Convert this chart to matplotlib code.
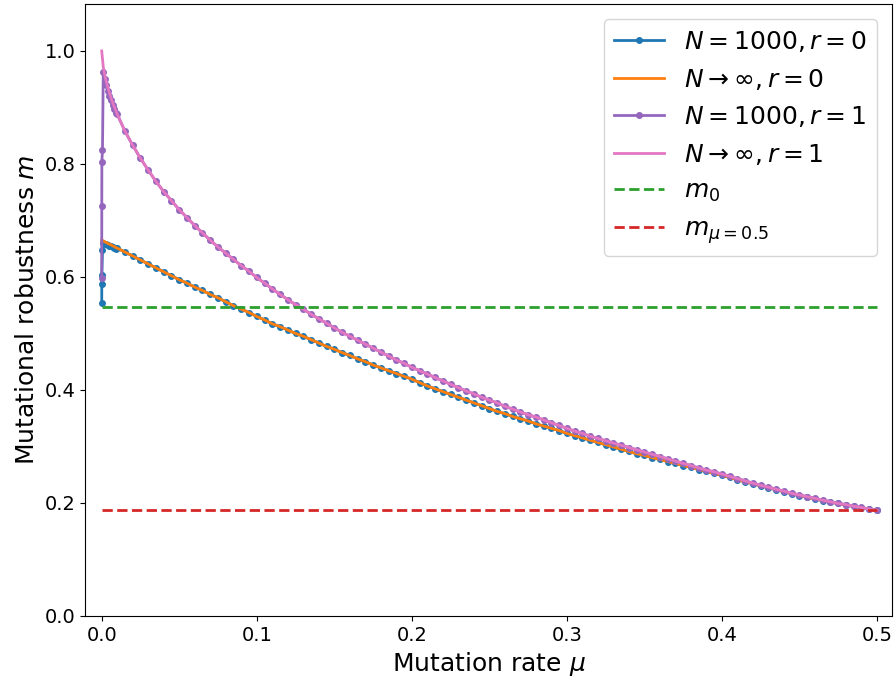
import matplotlib
matplotlib.use("Agg")
import matplotlib.pyplot as plt

# mutation-rate grids
mu_tiny = [1e-5, 5e-5, 1e-4, 5e-4]
mu_fine = [0.001, 0.002, 0.003, 0.004, 0.005, 0.006, 0.007, 0.008, 0.009]
mu_tail = [0.010, 0.015, 0.020, 0.025, 0.030, 0.035, 0.040, 0.045, 0.050, 0.055,
           0.060, 0.065, 0.070, 0.075, 0.080, 0.085, 0.090, 0.095, 0.100, 0.105,
           0.110, 0.115, 0.120, 0.125, 0.130, 0.135, 0.140, 0.145, 0.150, 0.155,
           0.160, 0.165, 0.170, 0.175, 0.180, 0.185, 0.190, 0.195, 0.200, 0.205,
           0.210, 0.215, 0.220, 0.225, 0.230, 0.235, 0.240, 0.245, 0.250, 0.255,
           0.260, 0.265, 0.270, 0.275, 0.280, 0.285, 0.290, 0.295, 0.300, 0.305,
           0.310, 0.315, 0.320, 0.325, 0.330, 0.335, 0.340, 0.345, 0.350, 0.355,
           0.360, 0.365, 0.370, 0.375, 0.380, 0.385, 0.390, 0.395, 0.400, 0.405,
           0.410, 0.415, 0.420, 0.425, 0.430, 0.435, 0.440, 0.445, 0.450, 0.455,
           0.460, 0.465, 0.470, 0.475, 0.480, 0.485, 0.490, 0.495, 0.500]

# r = 0
m_r0_tail = [0.651, 0.644, 0.637, 0.630, 0.623, 0.616, 0.609, 0.602, 0.595, 0.589,
             0.582, 0.576, 0.569, 0.563, 0.556, 0.549, 0.543, 0.537, 0.530, 0.524,
             0.517, 0.512, 0.506, 0.500, 0.495, 0.489, 0.483, 0.477, 0.472, 0.466,
             0.461, 0.455, 0.450, 0.444, 0.439, 0.434, 0.429, 0.424, 0.419, 0.413,
             0.407, 0.402, 0.397, 0.392, 0.387, 0.382, 0.377, 0.372, 0.367, 0.362,
             0.358, 0.353, 0.349, 0.345, 0.340, 0.336, 0.332, 0.328, 0.323, 0.319,
             0.315, 0.311, 0.307, 0.303, 0.299, 0.295, 0.291, 0.287, 0.284, 0.280,
             0.277, 0.273, 0.270, 0.266, 0.263, 0.259, 0.256, 0.252, 0.249, 0.245,
             0.241, 0.237, 0.234, 0.230, 0.227, 0.223, 0.220, 0.216, 0.213, 0.210,
             0.207, 0.204, 0.201, 0.199, 0.196, 0.194, 0.191, 0.189, 0.187]
m_th_r0_head = [0.665, 0.664, 0.662, 0.661, 0.659, 0.658, 0.657, 0.655, 0.654, 0.652]
m_sim_r0_head = [0.553, 0.588, 0.603, 0.648,
                 0.660, 0.659, 0.658, 0.657, 0.655, 0.654, 0.653, 0.651, 0.650]

# r = 1
m_r1_tail = [0.888, 0.858, 0.833, 0.810, 0.789, 0.769, 0.751, 0.735, 0.719, 0.705,
             0.691, 0.678, 0.665, 0.653, 0.642, 0.631, 0.620, 0.610, 0.599, 0.589,
             0.579, 0.569, 0.560, 0.551, 0.543, 0.534, 0.526, 0.518, 0.510, 0.502,
             0.495, 0.488, 0.481, 0.474, 0.467, 0.460, 0.453, 0.447, 0.440, 0.434,
             0.428, 0.422, 0.416, 0.410, 0.404, 0.398, 0.393, 0.387, 0.382, 0.377,
             0.371, 0.366, 0.361, 0.356, 0.352, 0.347, 0.342, 0.337, 0.332, 0.327,
             0.323, 0.318, 0.314, 0.310, 0.306, 0.302, 0.298, 0.294, 0.290, 0.286,
             0.282, 0.278, 0.274, 0.270, 0.266, 0.262, 0.258, 0.255, 0.251, 0.247,
             0.243, 0.239, 0.235, 0.231, 0.228, 0.224, 0.221, 0.217, 0.214, 0.211,
             0.208, 0.205, 0.202, 0.199, 0.197, 0.194, 0.192, 0.189, 0.187]
m_th_r1_head = [1.000, 0.972, 0.957, 0.945, 0.935, 0.926, 0.917, 0.909, 0.902, 0.895]
m_sim_r1_head = [0.598, 0.726, 0.804, 0.825,
                 0.963, 0.950, 0.939, 0.930, 0.921, 0.913, 0.905, 0.898, 0.891]

m0 = 0.546
m_half = 0.187

mu_sim = mu_tiny + mu_fine + mu_tail
mu_th = [0.0] + mu_fine + mu_tail

fig, ax = plt.subplots(figsize=(8.96, 6.79), dpi=100)
fig.subplots_adjust(left=0.095, right=0.996, bottom=0.093, top=0.994)

ax.plot(mu_sim, m_sim_r0_head + m_r0_tail, '.-', color='C0', lw=2, ms=8,
        label=r'$N=1000, r=0$')
ax.plot(mu_th, m_th_r0_head + m_r0_tail, '-', color='C1', lw=2,
        label=r'$N\to\infty, r=0$')
ax.plot(mu_sim, m_sim_r1_head + m_r1_tail, '.-', color='C4', lw=2, ms=8,
        label=r'$N=1000, r=1$')
ax.plot(mu_th, m_th_r1_head + m_r1_tail, '-', color='C6', lw=2,
        label=r'$N\to\infty, r=1$')
ax.plot([0, 0.5], [m0, m0], '--', color='C2', lw=2, label=r'$m_0$')
ax.plot([0, 0.5], [m_half, m_half], '--', color='C3', lw=2, label=r'$m_{\mu=0.5}$')

ax.set_xlim(-0.0107, 0.51)
ax.set_ylim(0, 1.083)
ax.set_xticks([0.0, 0.1, 0.2, 0.3, 0.4, 0.5])
ax.set_yticks([0.0, 0.2, 0.4, 0.6, 0.8, 1.0])
ax.tick_params(labelsize=14)
ax.set_xlabel(r'Mutation rate $\mu$', fontsize=18)
ax.set_ylabel(r'Mutational robustness $m$', fontsize=18)
ax.legend(loc='upper right', fontsize=18, borderaxespad=0.6)

fig.savefig('out.png', dpi=100)
